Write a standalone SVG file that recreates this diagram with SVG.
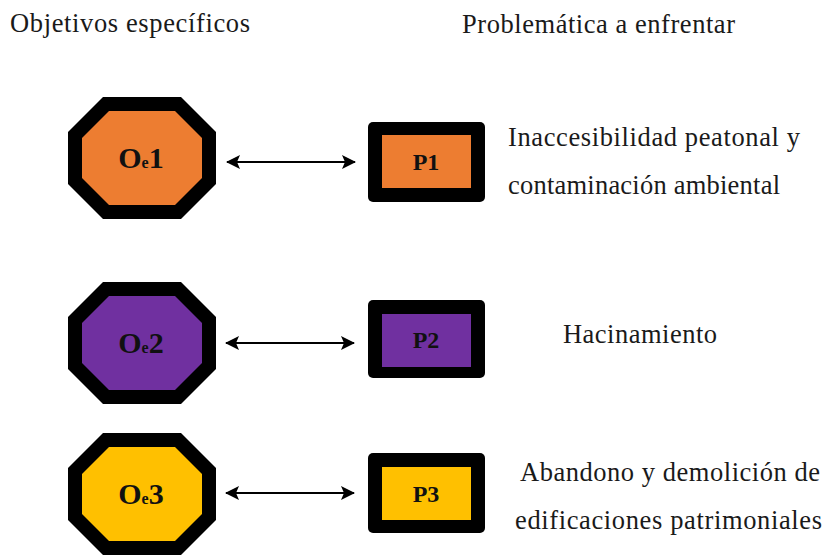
<svg xmlns="http://www.w3.org/2000/svg" width="828" height="560" viewBox="0 0 828 560" font-family="Liberation Serif, Times New Roman, serif">
<style>
text{font-family:"Liberation Serif","Times New Roman",serif}
.hdr{font-size:26.5px;fill:#1a1a1a}
.lbl{font-size:26.5px;fill:#1a1a1a}
.id{font-weight:bold;fill:#111}
.big{font-size:30px}
.sub{font-size:16px}
.pid{font-weight:bold;font-size:24px;fill:#111}
.conn{stroke:#000;stroke-width:2;fill:none}
</style>
<defs>
<marker id="ah" markerUnits="userSpaceOnUse" markerWidth="14" markerHeight="14" viewBox="0 0 14 14" refX="13" refY="7" orient="auto-start-reverse">
<path d="M0,0 L14,7 L0,14 L3,7 Z" fill="#000"/>
</marker>
<polygon id="octOuter" points="-39,-61 39,-61 74,-26 74,26 39,61 -39,61 -74,26 -74,-26"/>
<polygon id="octInner" points="-33,-47 33,-47 60,-20 60,20 33,47 -33,47 -60,20 -60,-20"/>
</defs>

<text class="hdr" x="10" y="32" textLength="240" lengthAdjust="spacing">Objetivos específicos</text>
<text class="hdr" x="462" y="33" textLength="273" lengthAdjust="spacing">Problemática a enfrentar</text>

<g id="Oe1">
<use href="#octOuter" x="142" y="158" fill="#000"/>
<use href="#octInner" x="142" y="158" fill="#ED7D31"/>
<text class="id" x="141" y="168" text-anchor="middle"><tspan class="big">O</tspan><tspan class="sub">e</tspan><tspan class="big">1</tspan></text>
</g>
<g id="Oe2">
<use href="#octOuter" x="142" y="343" fill="#000"/>
<use href="#octInner" x="142" y="343" fill="#7030A0"/>
<text class="id" x="141" y="353" text-anchor="middle"><tspan class="big">O</tspan><tspan class="sub">e</tspan><tspan class="big">2</tspan></text>
</g>
<g id="Oe3">
<use href="#octOuter" x="142" y="494" fill="#000"/>
<use href="#octInner" x="142" y="494" fill="#FFC000"/>
<text class="id" x="141" y="504" text-anchor="middle"><tspan class="big">O</tspan><tspan class="sub">e</tspan><tspan class="big">3</tspan></text>
</g>

<g id="P1">
<rect x="368" y="122" width="117" height="80" rx="5" fill="#000"/>
<rect x="382" y="135" width="89" height="53" fill="#ED7D31"/>
<text class="pid" x="426" y="170" text-anchor="middle">P1</text>
</g>
<g id="P2">
<rect x="368" y="300" width="117" height="78" rx="5" fill="#000"/>
<rect x="382" y="314" width="89" height="53" fill="#7030A0"/>
<text class="pid" x="426" y="348" text-anchor="middle">P2</text>
</g>
<g id="P3">
<rect x="368" y="453" width="117" height="80" rx="5" fill="#000"/>
<rect x="382" y="467" width="89" height="53" fill="#FFC000"/>
<text class="pid" x="426" y="502" text-anchor="middle">P3</text>
</g>

<g id="connectors">
<path class="conn" d="M227,162 H355" marker-start="url(#ah)" marker-end="url(#ah)"/>
<path class="conn" d="M226,343 H354" marker-start="url(#ah)" marker-end="url(#ah)"/>
<path class="conn" d="M226,493 H354" marker-start="url(#ah)" marker-end="url(#ah)"/>
</g>

<g id="labels">
<text class="lbl" x="508" y="146" textLength="292" lengthAdjust="spacing">Inaccesibilidad peatonal y</text>
<text class="lbl" x="508" y="194" textLength="272" lengthAdjust="spacing">contaminación ambiental</text>
<text class="lbl" x="563" y="343" textLength="154" lengthAdjust="spacing">Hacinamiento</text>
<text class="lbl" x="520" y="481" textLength="300" lengthAdjust="spacing">Abandono y demolición de</text>
<text class="lbl" x="515" y="529" textLength="307" lengthAdjust="spacing">edificaciones patrimoniales</text>
</g>
</svg>
